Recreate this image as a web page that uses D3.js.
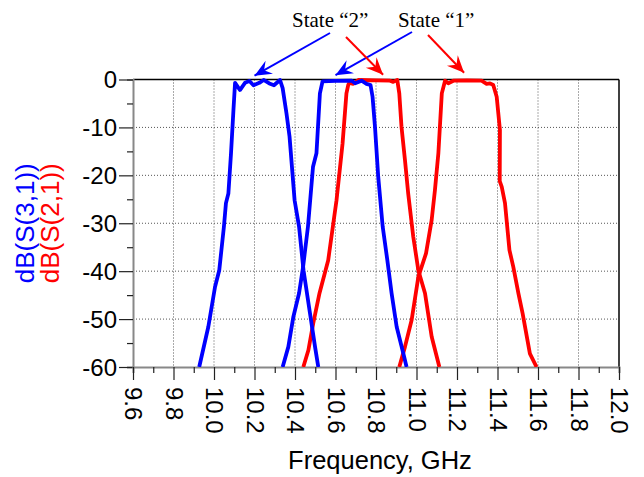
<html lang="en">
<head>
  <meta charset="UTF-8"/>
  <title>S-parameters</title>
  <script src="https://d3js.org/d3.v7.min.js"></script>
  <style>
    body { margin: 0; background: #ffffff; }
    text { font-family: "Liberation Sans", Arial, sans-serif; }
  </style>
</head>
<body onload="init()">
  <svg id="chart"></svg>
<script>
// frequency (GHz), dB pairs
var s31State2 = [[9.927,-60],[9.972,-51.6],[10.005,-43.3],[10.026,-39.8],[10.049,-30.7],[10.059,-25.8],[10.071,-23.8],
  [10.084,-15.4],[10.096,-6.4],[10.104,-0.7],[10.128,-2.2],[10.153,-0.7],[10.175,-0.3],[10.195,-1.2],[10.224,-0.7],
  [10.245,-0.1],[10.277,-0.9],[10.296,-1.2],[10.326,-0.1],[10.339,-1.8],[10.358,-7.1],[10.373,-11.9],[10.398,-25.2],
  [10.42,-30.7],[10.442,-39.8],[10.474,-48.8],[10.499,-55.8],[10.515,-60]];
var s31State1 = [[10.339,-60],[10.367,-55.8],[10.392,-49.5],[10.42,-44.6],[10.44,-39.1],[10.464,-30.7],[10.489,-18.2],
  [10.506,-15.4],[10.523,-2.9],[10.536,-0.4],[10.6,-0.3],[10.68,-0.25],[10.697,-0.8],[10.729,-0.25],[10.753,-0.9],
  [10.773,-1.15],[10.783,-3.6],[10.795,-9.9],[10.811,-20.3],[10.833,-30.7],[10.856,-37.7],[10.877,-44.6],
  [10.902,-51.6],[10.935,-57.2],[10.951,-60]];
var s21State2 = [[10.441,-60],[10.466,-56.5],[10.49,-50.9],[10.521,-44.6],[10.564,-37.7],[10.605,-25.2],[10.635,-13.3],
  [10.654,-2.9],[10.663,-1.1],[10.668,-0.7],[10.688,-0.9],[10.713,-0.1],[10.8,-0.2],[10.869,-0.25],[10.885,-0.5],
  [10.905,-0.1],[10.915,-2.9],[10.926,-9.9],[10.943,-16.8],[10.959,-23.8],[10.984,-32.8],[11.009,-39.8],
  [11.042,-44.6],[11.075,-53.7],[11.096,-57.2],[11.113,-60]];
var s21State1 = [[10.915,-60],[10.943,-55.8],[10.976,-50.2],[11.009,-41.2],[11.047,-36.3],[11.075,-29.3],[11.091,-23.1],
  [11.108,-15.4],[11.125,-2.9],[11.141,-0.25],[11.157,-0.8],[11.182,-0.25],[11.25,-0.2],[11.321,-0.25],[11.346,-0.9],
  [11.363,-0.8],[11.379,-1.15],[11.396,-3.6],[11.412,-10.5],[11.411,-21.2],[11.421,-22.4],[11.437,-25.8],
  [11.459,-35.6],[11.478,-39.1],[11.503,-44.6],[11.524,-48.8],[11.56,-57.2],[11.593,-60]];

var xTicks = [9.6, 9.8, 10.0, 10.2, 10.4, 10.6, 10.8, 11.0, 11.2, 11.4, 11.6, 11.8, 12.0];
var yTicks = [0, -10, -20, -30, -40, -50, -60];

// annotation labels and arrow tips (tips in GHz / dB)
var stateLabels = ["State \u201c2\u201d", "State \u201c1\u201d"];
var arrowTips = [[10.2, 0.8], [10.6, 0.9], [10.835, 1.0], [11.235, 1.4]];

function init() {
  var width = 644, height = 477;
  var margin = {top: 79.5, right: 25, bottom: 110, left: 133};
  var w = width - margin.left - margin.right;
  var h = height - margin.top - margin.bottom;

  var svg = d3.select("#chart").attr("width", width).attr("height", height);

  var x = d3.scaleLinear().domain([9.6, 12.0]).range([margin.left, margin.left + w]);
  var y = d3.scaleLinear().domain([-60, 0]).range([margin.top + h, margin.top]);

  // grid
  var grid = svg.append("g");
  grid.selectAll("line.vg").data(xTicks.slice(1, -1)).enter().append("line")
    .attr("x1", d => x(d)).attr("x2", d => x(d))
    .attr("y1", y(0)).attr("y2", y(-60))
    .attr("stroke", "#555").attr("stroke-width", 1).attr("stroke-dasharray", "1,2");
  grid.selectAll("line.hg").data(yTicks.slice(1, -1)).enter().append("line")
    .attr("x1", x(9.6)).attr("x2", x(12.0))
    .attr("y1", d => y(d)).attr("y2", d => y(d))
    .attr("stroke", "#555").attr("stroke-width", 1).attr("stroke-dasharray", "1,2");

  // frame: top/right black, left/bottom gray
  svg.append("line").attr("x1", x(9.6)).attr("x2", x(12.0)).attr("y1", y(0)).attr("y2", y(0))
    .attr("stroke", "#000").attr("stroke-width", 1.5);
  svg.append("line").attr("x1", x(12.0)).attr("x2", x(12.0)).attr("y1", y(0)).attr("y2", y(-60))
    .attr("stroke", "#000").attr("stroke-width", 1.5);

  var yAxis = d3.axisLeft(y).tickValues(d3.range(-60, 1, 5)).tickSize(6).tickFormat("");
  var ya = svg.append("g").attr("transform", "translate(" + margin.left + ",0)").call(yAxis);
  ya.select(".domain").attr("stroke", "#888").attr("stroke-width", 2);
  ya.selectAll(".tick line").attr("stroke", "#222").attr("stroke-width", 1.2)
    .attr("x2", d => (d % 10 === 0 ? -14 : -6));
  ya.selectAll(".tick").filter(d => d % 10 === 0).append("text")
    .attr("x", -16).attr("dy", "0.35em").attr("text-anchor", "end")
    .attr("fill", "#000").style("font-size", "24px").text(d => d);

  var xAxis = d3.axisBottom(x).tickValues(d3.range(0, 25).map(i => 9.6 + i * 0.1)).tickSize(6).tickFormat("");
  var xa = svg.append("g").attr("transform", "translate(0," + (margin.top + h) + ")").call(xAxis);
  xa.select(".domain").attr("stroke", "#888").attr("stroke-width", 2);
  xa.selectAll(".tick line").attr("stroke", "#222").attr("stroke-width", 1.2)
    .attr("y2", (d, i) => (i % 2 === 0 ? 13 : 6));
  xa.selectAll(".tick").filter((d, i) => i % 2 === 0).append("text")
    .attr("transform", "translate(0,20) rotate(90)")
    .attr("dy", "0.35em").attr("text-anchor", "start")
    .attr("fill", "#000").style("font-size", "24px").text(d => d.toFixed(1));

  // axis titles
  svg.append("text").attr("x", 380).attr("y", 469).attr("text-anchor", "middle")
    .style("font-size", "25.5px").text("Frequency, GHz");
  var yt = [["dB(S(3,1))", "#0000ff", 34], ["dB(S(2,1))", "#ff0000", 59]];
  svg.selectAll("text.yt").data(yt).enter().append("text")
    .attr("transform", d => "translate(" + d[2] + "," + (margin.top + h / 2) + ") rotate(-90)")
    .attr("text-anchor", "middle").attr("fill", d => d[1])
    .style("font-size", "26px").text(d => d[0]);

  // traces
  svg.append("clipPath").attr("id", "clip").append("rect")
    .attr("x", margin.left).attr("y", margin.top - 3).attr("width", w).attr("height", h + 3);
  var line = d3.line().x(d => x(d[0])).y(d => y(d[1]));
  var traces = [[s21State2, "#ff0000"], [s21State1, "#ff0000"], [s31State2, "#0000ff"], [s31State1, "#0000ff"]];
  svg.append("g").attr("clip-path", "url(#clip)").selectAll("path").data(traces).enter().append("path")
    .attr("d", d => line(d[0])).attr("fill", "none").attr("stroke", d => d[1])
    .attr("stroke-width", 3.8).attr("stroke-linejoin", "round");

  // annotations
  var defs = svg.append("defs");
  ["#0000ff", "#ff0000"].forEach(function(c, i) {
    defs.append("marker").attr("id", "ah" + i).attr("viewBox", "-18 -9 20 18")
      .attr("markerWidth", 20).attr("markerHeight", 18).attr("markerUnits", "userSpaceOnUse")
      .attr("refX", 0).attr("refY", 0).attr("orient", "auto")
      .append("path").attr("d", "M0,0 L-17,-7.5 L-11,0 L-17,7.5 Z").attr("fill", c);
  });
  svg.selectAll("text.st").data(stateLabels).enter().append("text")
    .attr("x", (d, i) => (i === 0 ? 292 : 398)).attr("y", 27)
    .style("font-family", "'Liberation Serif', 'Times New Roman', serif").style("font-size", "21px")
    .text(d => d);
  var arrows = [[330, 33, 0, "#0000ff"], [412, 32, 1, "#0000ff"], [346, 37, 2, "#ff0000"], [428, 35, 3, "#ff0000"]];
  svg.selectAll("line.ar").data(arrows).enter().append("line")
    .attr("x1", d => d[0]).attr("y1", d => d[1])
    .attr("x2", d => x(arrowTips[d[2]][0])).attr("y2", d => y(arrowTips[d[2]][1]))
    .attr("stroke", d => d[3]).attr("stroke-width", 2)
    .attr("marker-end", d => "url(#ah" + (d[3] === "#0000ff" ? 0 : 1) + ")");
}
</script>
</body>
</html>
